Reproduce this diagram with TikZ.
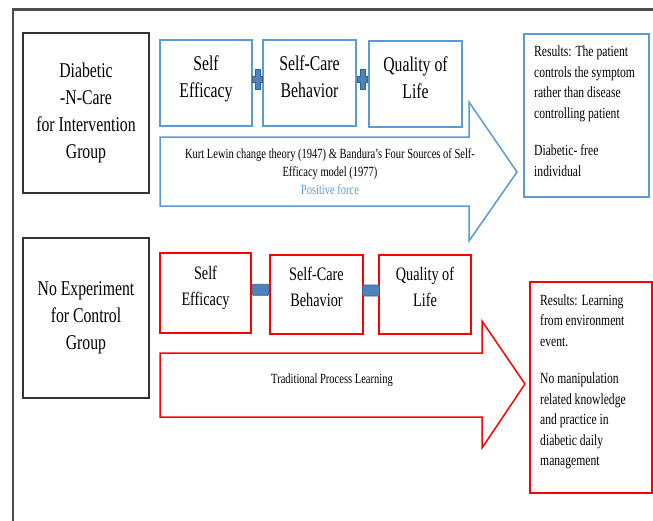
\documentclass[tikz,border=0pt]{standalone}
\usepackage{fontspec}
\setmainfont{Liberation Serif}[FakeStretch=0.75]
\usetikzlibrary{calc}
\definecolor{boxblue}{RGB}{91,155,213}
\definecolor{signblue}{RGB}{79,129,189}
\definecolor{signedge}{RGB}{56,93,138}

\begin{document}
\begin{tikzpicture}[x=1pt, y=-1pt,
    groupbox/.style={draw=black!80, line width=1.8pt, minimum width=126pt,
        minimum height=160pt, align=center, inner sep=0pt,
        font=\fontsize{21}{27}\selectfont},
    stepblue/.style={draw=boxblue, line width=1.5pt, minimum width=93pt,
        minimum height=86pt, align=center, inner sep=0pt, text depth=13pt,
        font=\fontsize{21}{27}\selectfont},
    stepred/.style={draw=red, line width=1.5pt, minimum width=92pt,
        minimum height=79pt, align=center, inner sep=0pt, text depth=15pt,
        font=\fontsize{19}{26}\selectfont},
    resultbox/.style={line width=1.5pt, inner sep=0pt},
    resulttext/.style={anchor=north west, align=left, inner sep=0pt,
        font=\fontsize{15.5}{20.5}\selectfont},
    minussign/.style={draw=signedge, fill=signblue, line width=0.6pt,
        rounded corners=1pt, minimum width=17pt, minimum height=11pt, inner sep=0pt},
    plusmark/.pic={
        \draw[signedge, fill=signblue, line width=0.6pt]
            (-2.3,-10) -- (2.3,-10) -- (2.3,-3) -- (5,-3) -- (5,3)
            -- (2.3,3) -- (2.3,10) -- (-2.3,10) -- (-2.3,3) -- (-5,3)
            -- (-5,-3) -- (-2.3,-3) -- cycle;
    }]

\useasboundingbox (0,0) rectangle (653,520);
\clip (0,0) rectangle (653,520);
\fill[white] (0,0) rectangle (653,520);

% Outer frame
\draw[black!70, line width=2.2pt] (13,530) -- (13,9.5) -- (665,9.5);

% Intervention group
\node[groupbox] (grpA) at (86,113) {Diabetic\\-N-Care\\for Intervention\\Group};

\node[stepblue, minimum width=92pt] (seA) at (206,83) {Self\\Efficacy};
\node[stepblue] (scA) at (309.5,83) {Self-Care\\Behavior};
\node[stepblue] (qlA) at (415.5,84) {Quality of\\Life};

\pic at ($(seA.east)!0.5!(scA.west)+(0,-4)$) {plusmark};
\pic at ($(scA.east)!0.5!(qlA.west)+(0,-4)$) {plusmark};

% Positive force arrow
\draw[boxblue, line width=1.5pt, line join=miter]
    (160,137) -- (469,137) -- (469,102) -- (517,172) -- (469,241)
    -- (469,206) -- (160,206) -- cycle;
\node[anchor=north, align=center, inner sep=0pt,
    font=\fontsize{14}{18}\selectfont] (forceA) at (330,148.5)
    {Kurt Lewin change theory (1947) \& Bandura's Four Sources of Self-\\
     Efficacy model (1977)\\
     \textcolor{boxblue}{Positive force}};

% Results for intervention group
\node[resultbox, draw=boxblue, minimum width=125pt, minimum height=163pt]
    (resA) at (586.5,115.5) {};
\node[resulttext] (resAtxt) at (534,46)
    {Results: The patient\\controls the symptom\\rather than disease\\controlling patient\\[17pt]
     Diabetic- free\\individual};

% Control group
\node[groupbox] (grpB) at (86,318) {No Experiment\\for Control\\Group};

\node[stepred, minimum width=91pt, minimum height=80pt] (seB) at (205.5,293) {Self\\Efficacy};
\node[stepred, minimum width=93pt] (scB) at (316.5,294.5) {Self-Care\\Behavior};
\node[stepred] (qlB) at (425,294.5) {Quality of\\Life};

\node[minussign] (mAB) at ($(seB.east)!0.5!(scB.west)+(0,-4)$) {};
\node[minussign] (mBC) at ($(scB.east)!0.5!(qlB.west)+(0,-4)$) {};

% Traditional learning arrow
\draw[red, line width=1.5pt, line join=miter]
    (160,353) -- (482,353) -- (482,321) -- (525,384) -- (482,448)
    -- (482,417) -- (160,417) -- cycle;
\node[anchor=base, inner sep=0pt, font=\fontsize{14}{18}\selectfont]
    (forceB) at (332,383) {Traditional Process Learning};

% Results for control group
\node[resultbox, draw=red, minimum width=122pt, minimum height=211pt]
    (resB) at (591,387.5) {};
\node[resulttext] (resBtxt) at (540,294.5)
    {Results: Learning\\from environment\\event.\\[17pt]
     No manipulation\\related knowledge\\and practice in\\diabetic daily\\management};

\end{tikzpicture}
\end{document}
